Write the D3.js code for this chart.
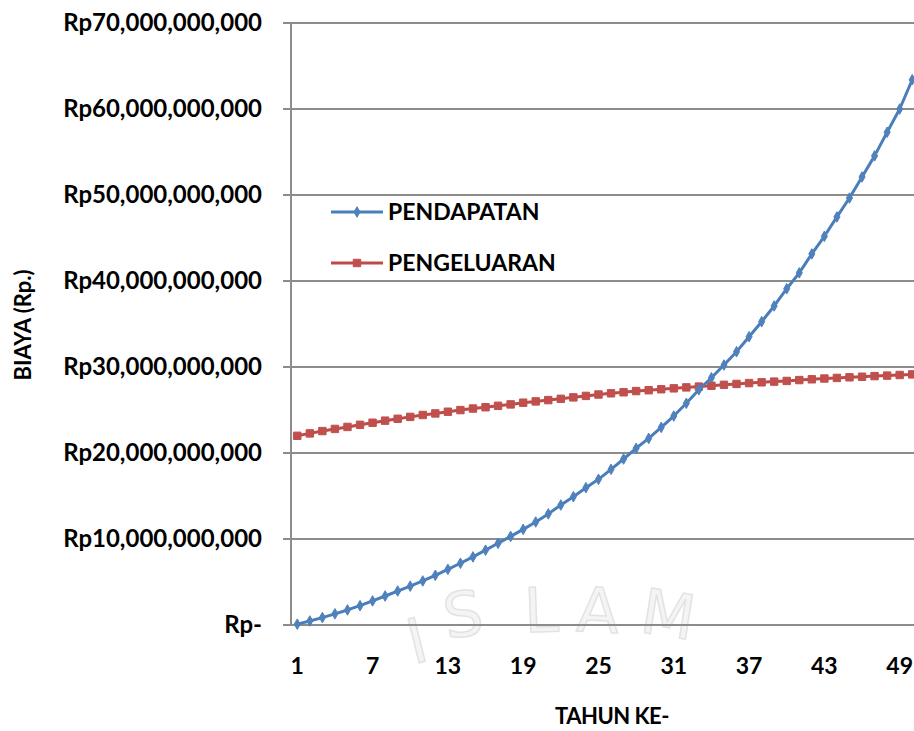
<!DOCTYPE html>
<html>
<head>
<meta charset="utf-8">
<script src="https://cdn.jsdelivr.net/npm/d3@7"></script>
<style>
  html, body { margin: 0; padding: 0; background: #fff; }
  svg { display: block; font-family: Lato, "Open Sans", sans-serif; font-weight: 700; }
</style>
</head>
<body>
<svg id="chart" width="914" height="731"></svg>
<script>
// Year index of the projection (tahun ke-)
const years = d3.range(1, 51);

// Revenue per year, in billions of rupiah (miliar Rp)
const pendapatan = [
  0.1, 0.47, 0.86, 1.3, 1.75, 2.25, 2.8, 3.37, 3.95, 4.52,
  5.12, 5.78, 6.47, 7.18, 7.92, 8.7, 9.5, 10.3, 11.12, 11.98,
  12.92, 13.95, 14.92, 15.97, 16.94, 18.1, 19.3, 20.55, 21.7, 22.98,
  24.3, 25.78, 27.35, 28.75, 30.23, 31.78, 33.52, 35.27, 37.1, 39.1,
  40.95, 43.15, 45.2, 47.45, 49.65, 52.1, 54.55, 57.3, 60.0, 63.4
];

// Expenditure per year, in billions of rupiah (miliar Rp)
const pengeluaran = [
  22.0, 22.28, 22.55, 22.8, 23.03, 23.28, 23.52, 23.76, 23.98, 24.2,
  24.42, 24.6, 24.8, 24.99, 25.17, 25.32, 25.49, 25.65, 25.85, 26.0,
  26.15, 26.3, 26.47, 26.64, 26.8, 26.94, 27.06, 27.2, 27.3, 27.41,
  27.52, 27.63, 27.72, 27.82, 27.93, 28.03, 28.13, 28.22, 28.3, 28.38,
  28.48, 28.57, 28.66, 28.73, 28.8, 28.87, 28.94, 29.0, 29.07, 29.14
];

const seriesNames = ["PENDAPATAN", "PENGELUARAN"];
const yTicks = [0, 10, 20, 30, 40, 50, 60, 70];
const xTicks = [1, 7, 13, 19, 25, 31, 37, 43, 49];

const blue = "#4A7EBB", blueMark = "#4F81BD";
const red = "#BE4B48", redMark = "#C0504D";
const gridColor = "#8C8C8C";

const svg = d3.select("#chart");

const plot = { left: 291, top: 23, bottom: 625, band: 12.55 };
plot.right = plot.left + years.length * plot.band;

const x = d3.scaleBand().domain(years).range([plot.left, plot.right]).padding(0);
const cx = d => x(d) + x.bandwidth() / 2;
const y = d3.scaleLinear().domain([0, 70]).range([plot.bottom, plot.top]);

// faint seal watermark behind the chart: letters set one by one along an arch
const sealLetters = [
  { ch: "I", x: 422, y: 662, r: -14 },
  { ch: "S", x: 466, y: 636, r: -8 },
  { ch: "L", x: 542, y: 632, r: -2 },
  { ch: "A", x: 597, y: 632, r: 3 },
  { ch: "M", x: 665, y: 636, r: 9 }
];
svg.append("g")
  .attr("class", "watermark")
  .selectAll("text")
  .data(sealLetters)
  .join("text")
  .attr("transform", d => `translate(${d.x},${d.y}) rotate(${d.r})`)
  .attr("text-anchor", "middle")
  .attr("font-size", 62)
  .attr("font-family", "'DejaVu Sans', sans-serif")
  .attr("font-weight", 400)
  .attr("fill", "#f4f4f4")
  .attr("stroke", "#e3e3e3")
  .attr("stroke-width", 1.5)
  .text(d => d.ch);

// horizontal gridlines, running slightly left of the axis as tick marks
svg.append("g")
  .selectAll("line")
  .data(yTicks)
  .join("line")
  .attr("x1", plot.left - 8)
  .attr("x2", plot.right)
  .attr("y1", d => y(d))
  .attr("y2", d => y(d))
  .attr("stroke", gridColor)
  .attr("stroke-width", 2);

// vertical axis line
svg.append("line")
  .attr("x1", plot.left).attr("x2", plot.left)
  .attr("y1", y(70)).attr("y2", y(0))
  .attr("stroke", gridColor)
  .attr("stroke-width", 2);

// y tick labels
const fmt = d3.format(",");
const yAxis = svg.append("g")
  .attr("transform", `translate(${plot.left},0)`)
  .call(d3.axisLeft(y).tickValues(yTicks).tickSize(0).tickPadding(29)
    .tickFormat(v => v === 0 ? "Rp-" : "Rp" + fmt(Math.round(v * 1e9))));
yAxis.select(".domain").remove();
yAxis.selectAll("text")
  .attr("font-size", 24)
  .attr("font-family", "Lato, sans-serif")
  .attr("font-weight", 700)
  .attr("fill", "#000");

// x tick labels
const xAxis = svg.append("g")
  .attr("transform", `translate(0,${plot.bottom})`)
  .call(d3.axisBottom(x).tickValues(xTicks).tickSize(0).tickPadding(33));
xAxis.select(".domain").remove();
xAxis.selectAll("text")
  .attr("font-size", 23)
  .attr("font-family", "Lato, sans-serif")
  .attr("font-weight", 700)
  .attr("fill", "#000");

// axis titles
svg.append("text")
  .attr("transform", "translate(31,325) rotate(-90)")
  .attr("text-anchor", "middle")
  .attr("font-size", 22)
  .text("BIAYA (Rp.)");

svg.append("text")
  .attr("x", 612)
  .attr("y", 724)
  .attr("text-anchor", "middle")
  .attr("font-size", 22)
  .attr("letter-spacing", -0.5)
  .text("TAHUN KE-");

// series
const series = [
  { name: seriesNames[0], values: pendapatan, line: blue, mark: blueMark, shape: d3.symbolDiamond, size: 32 },
  { name: seriesNames[1], values: pengeluaran, line: red, mark: redMark, shape: d3.symbolSquare, size: 55 }
];

const lineGen = d3.line().x((d, i) => cx(years[i])).y(d => y(d));

const seriesG = svg.append("g");
// draw expenditure first so the revenue curve sits on top at the crossing
[series[1], series[0]].forEach(s => {
  const g = seriesG.append("g");
  g.append("path")
    .attr("d", lineGen(s.values))
    .attr("fill", "none")
    .attr("stroke", s.line)
    .attr("stroke-width", 3)
    .attr("stroke-linejoin", "round");
  g.selectAll("path.m")
    .data(s.values)
    .join("path")
    .attr("class", "m")
    .attr("transform", (d, i) => `translate(${cx(years[i])},${y(d)})`)
    .attr("d", d3.symbol().type(s.shape).size(s.size))
    .attr("fill", s.mark)
    .attr("stroke", s.mark)
    .attr("stroke-width", 1);
});

// legend
const legend = svg.append("g");
const legendRows = [
  { s: series[0], y: 212 },
  { s: series[1], y: 263 }
];
legendRows.forEach(r => {
  legend.append("line")
    .attr("x1", 331).attr("x2", 383)
    .attr("y1", r.y).attr("y2", r.y)
    .attr("stroke", r.s.line)
    .attr("stroke-width", 3);
  legend.append("path")
    .attr("transform", `translate(357,${r.y})`)
    .attr("d", d3.symbol().type(r.s.shape).size(r.s.size))
    .attr("fill", r.s.mark)
    .attr("stroke", r.s.mark);
  legend.append("text")
    .attr("x", 388)
    .attr("y", r.y + 8)
    .attr("font-size", 23)
    .text(r.s.name);
});
</script>
</body>
</html>
